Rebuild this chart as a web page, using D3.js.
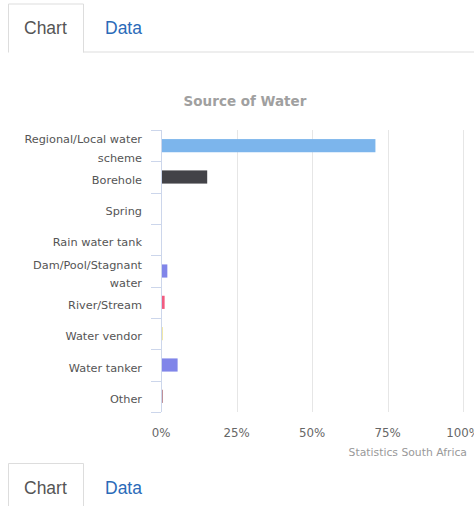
<!DOCTYPE html>
<html><head><meta charset="utf-8">
<script src="https://cdn.jsdelivr.net/npm/d3@7"></script>
<style>
body{margin:0;background:#fff;font-family:"Liberation Sans",Arial,sans-serif;}
.hc{font-family:"DejaVu Sans",Verdana,sans-serif;}
</style></head>
<body><svg id="c" width="474" height="506"></svg>
<script>
const categories = [["Regional/Local water","scheme"],["Borehole"],["Spring"],["Rain water tank"],["Dam/Pool/Stagnant","water"],["River/Stream"],["Water vendor"],["Water tanker"],["Other"]];
const values = [71.0, 15.3, 0.1, 0.1, 2.1, 1.2, 0.5, 5.5, 0.6];
const colors = ["#7cb5ec","#434348","#90ed7d","#f7a35c","#8085e9","#f15c80","#e4d354","#8085e9","#b07882"];
const xTicks = [0,25,50,75,100];
const title = "Source of Water";
const credit = "Statistics South Africa";

(function(){
const svg = d3.select("#c");
const pL = 161, pR = 463, pT = 130, pB = 412;
const x = d3.scaleLinear().domain([0,100]).range([pL,pR]);
const y = d3.scaleBand().domain(d3.range(categories.length)).range([pT,pB]).paddingInner(0.58).paddingOuter(0.29);
const yb = d3.scaleBand().domain(d3.range(categories.length)).range([pT,pB]);

function tabs(y0){
  const g = svg.append("g").attr("transform",`translate(0,${y0})`);
  g.append("line").attr("x1",83).attr("x2",474).attr("y1",48.5).attr("y2",48.5).attr("stroke","#ddd");
  g.append("path").attr("d","M8.5,49 V0.5 H83.5 V49").attr("fill","#fff").attr("stroke","#ddd");
  g.append("text").attr("x",24).attr("y",30.5).attr("font-size",17.5).attr("fill","#555").text("Chart");
  g.append("text").attr("x",105).attr("y",30.5).attr("font-size",17.5).attr("fill","#2a6ab8").text("Data");
}
tabs(3.5);
tabs(463);

svg.append("text").attr("class","hc").attr("x",245).attr("y",105.5).attr("text-anchor","middle").attr("font-size",13.5).attr("font-weight","bold").attr("fill","#a0a0a0").text(title);

svg.append("g").selectAll("line").data(xTicks.filter(d=>d>0)).join("line")
  .attr("x1",d=>Math.round(x(d))+0.5).attr("x2",d=>Math.round(x(d))+0.5).attr("y1",pT).attr("y2",pB)
  .attr("stroke","#e6e6e6");

svg.append("g").selectAll("rect").data(values).join("rect")
  .attr("x",pL).attr("y",(d,i)=>y(i)).attr("height",y.bandwidth())
  .attr("width",d=>x(d)-pL).attr("fill",(d,i)=>colors[i]);

const yAxis = svg.append("g");
yAxis.append("line").attr("x1",pL+0.5).attr("x2",pL+0.5).attr("y1",pT).attr("y2",pB).attr("stroke","#ccd6eb");
yAxis.selectAll("line.t").data(d3.range(categories.length+1)).join("line").attr("class","t")
  .attr("x1",pL-10).attr("x2",pL).attr("y1",d=>Math.round(pT+d*yb.step())+0.5).attr("y2",d=>Math.round(pT+d*yb.step())+0.5)
  .attr("stroke","#ccd6eb");
const lab = yAxis.selectAll("text").data(categories).join("text").attr("class","hc")
  .attr("text-anchor","end").attr("font-size",11.3).attr("fill","#555");
lab.each(function(d,i){
  const c = yb(i)+yb.bandwidth()/2;
  const t = d3.select(this);
  if(d.length===1){ t.append("tspan").attr("x",142).attr("y",c+6.5).text(d[0]); }
  else { d.forEach((s,k)=>t.append("tspan").attr("x",142).attr("y",c-2.5+k*18.5).text(s)); }
});

svg.append("g").selectAll("text").data(xTicks).join("text").attr("class","hc")
  .attr("x",d=>x(d)).attr("y",437).attr("text-anchor","middle").attr("font-size",11.8).attr("fill","#666")
  .text(d=>d+"%");

svg.append("text").attr("class","hc").attr("x",467).attr("y",456).attr("text-anchor","end").attr("font-size",10.8).attr("fill","#999").text(credit);
})();
</script></body></html>
